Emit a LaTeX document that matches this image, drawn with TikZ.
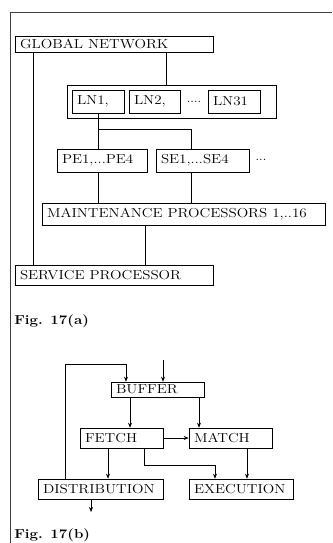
\documentclass[tikz,border=0pt]{standalone}
\usetikzlibrary{arrows.meta}
\newcommand\wtxt[1]{\scalebox{1.16}[1]{#1}}
\begin{document}
\begin{tikzpicture}[x=1pt,y=-1pt,
  every path/.style={line width=0.6pt},
  box/.style={draw, inner xsep=5pt, inner ysep=0pt, align=left,
    font=\fontsize{13}{15}\selectfont},
  plain/.style={draw, inner sep=0pt},
  arr/.style={-{Stealth[length=5pt,width=4pt]}},
  dotstyle/.style={inner sep=0pt, font=\fontsize{13}{15}\selectfont},
  figlab/.style={anchor=base west, inner sep=0pt, font=\fontsize{13}{15}\selectfont\bfseries}]
\useasboundingbox (0,0) rectangle (332,543);
% page border
\draw[black!75] (10,543) -- (10,12) -- (332,12);
% Fig 17(a)
\node[box, text width=188pt, minimum height=16pt] (gn) at (114,44) {\wtxt{GLOBAL NETWORK}};
\node[plain, minimum width=209pt, minimum height=33pt] (lnout) at (171.5,101.5) {};
\node[box, text width=42pt, minimum height=23pt] (ln1) at (98,101.5) {\wtxt{LN1,}};
\node[box, text width=41pt, minimum height=23pt] (ln2) at (154.5,101.5) {\wtxt{LN2,}};
\node[dotstyle] (lndots) at (194,102) {....};
\node[box, text width=42pt, minimum height=23pt] (ln31) at (234,101.5) {\wtxt{LN31}};
\node[box, text width=80pt, minimum height=23pt] (pe) at (102,160.5) {\wtxt{PE1,...PE4}};
\node[box, text width=83pt, minimum height=23pt] (se) at (202.5,160.5) {\wtxt{SE1,...SE4}};
\node[dotstyle] (sedots) at (261,160) {...};
\node[box, text width=273pt, minimum height=22pt] (mp) at (183.5,214) {\wtxt{MAINTENANCE PROCESSORS 1,..16}};
\node[box, text width=188pt, minimum height=20pt] (sp) at (114,275) {\wtxt{SERVICE PROCESSOR}};
\node[figlab] (figa) at (14,324) {\wtxt{Fig. 17(a)}};
\coordinate (xa) at (166,0);
\coordinate (xb) at (33,0);
\coordinate (xc) at (191,0);
\coordinate (xd) at (145,0);
\coordinate (j1) at (98,129);
\draw (gn.south -| xa) -- (lnout.north -| xa);
\draw (gn.south -| xb) -- (sp.north -| xb);
\draw (ln1.south) -- (pe.north -| ln1.south);
\draw (j1) -| (se.north -| xc);
\draw (pe.south -| ln1.south) -- (mp.north -| ln1.south);
\draw (se.south -| xc) -- (mp.north -| xc);
\draw (mp.south -| xd) -- (sp.north -| xd);
% Fig 17(b)
\node[box, text width=83pt, minimum height=15pt] (buf) at (157.5,389.5) {\wtxt{BUFFER}};
\node[box, text width=73pt, minimum height=20pt] (fetch) at (121.5,438) {\wtxt{FETCH}};
\node[box, text width=73pt, minimum height=20pt] (match) at (230.5,438) {\wtxt{MATCH}};
\node[box, text width=115pt, minimum height=20pt] (dist) at (100.5,489) {\wtxt{DISTRIBUTION}};
\node[box, text width=94pt, minimum height=20pt] (exec) at (241,489) {\wtxt{EXECUTION}};
\node[figlab] (figb) at (14,538) {\wtxt{Fig. 17(b)}};
\coordinate (in1) at (163,360);
\coordinate (fbl) at (65,364);
\coordinate (fbr) at (126,364);
\coordinate (xe) at (130,0);
\coordinate (xf) at (199,0);
\coordinate (xg) at (108,0);
\coordinate (j2) at (144,465);
\coordinate (xh) at (215,0);
\coordinate (xi) at (247,0);
\coordinate (out1) at (91,512);
\draw[arr] (in1) -- (buf.north -| in1);
\draw[arr] (dist.north -| fbl) -- (fbl) -- (fbr) -- (buf.north -| fbr);
\draw[arr] (buf.south -| xe) -- (fetch.north -| xe);
\draw[arr] (buf.south -| xf) -- (match.north -| xf);
\draw[arr] (fetch.east) -- (match.west);
\draw[arr] (fetch.south -| xg) -- (dist.north -| xg);
\draw[arr] (fetch.south -| j2) -- (j2) -| (exec.north -| xh);
\draw[arr] (match.south -| xi) -- (exec.north -| xi);
\draw[arr] (dist.south -| out1) -- (out1);
\end{tikzpicture}
\end{document}
